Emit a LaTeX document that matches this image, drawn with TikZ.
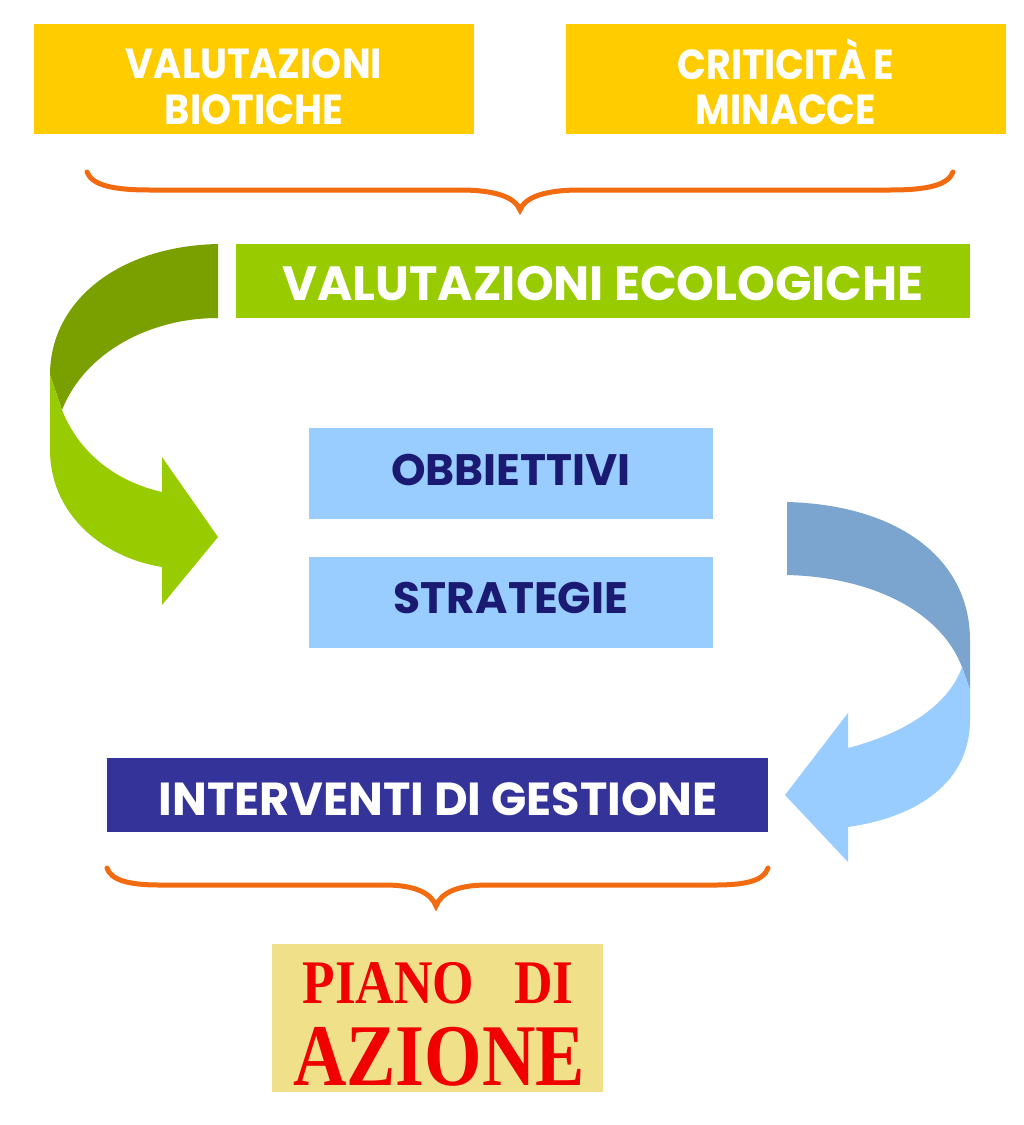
\documentclass[tikz,border=0pt]{standalone}
\usepackage{fontspec}
\setmainfont{Liberation Serif}
\newfontfamily\gothic{Poppins}
\definecolor{ybox}{HTML}{FFCC00}
\definecolor{gbox}{HTML}{99CC00}
\definecolor{gdark}{HTML}{7AA000}
\definecolor{bbox}{HTML}{99CCFF}
\definecolor{bdark}{HTML}{7BA5CF}
\definecolor{navy}{HTML}{1A1A72}
\definecolor{ibox}{HTML}{333399}
\definecolor{brace}{HTML}{F26B10}
\definecolor{pbox}{HTML}{F0E08A}
\definecolor{ptext}{HTML}{F00000}
\newcommand{\hs}[2]{\scalebox{#1}[1]{#2}}
\begin{document}
\begin{tikzpicture}[x=1pt,y=-1pt,
  box/.style={rectangle,inner sep=0pt,outer sep=0pt,anchor=north west},
  lbl/.style={anchor=base,inner sep=0pt},
  wtxt/.style={lbl,text=white,font=\gothic\bfseries\fontsize{42}{47}\selectfont},
  btxt/.style={lbl,text=navy,font=\gothic\bfseries\fontsize{44}{50}\selectfont},
  bigw/.style={lbl,text=white,font=\gothic\bfseries\fontsize{48}{50}\selectfont},
  bracestyle/.style={draw=brace,line width=5pt,line cap=round}]
\useasboundingbox (0,0) rectangle (1024,1125);
\fill[white] (0,0) rectangle (1024,1125);

% top boxes
\node[box,fill=ybox,minimum width=440pt,minimum height=110pt] (bio) at (34,24) {};
\node[wtxt] (bio1) at (254,78) {\hs{0.91}{VALUTAZIONI}};
\node[wtxt] (bio2) at (254,124) {\hs{0.91}{BIOTICHE}};
\node[box,fill=ybox,minimum width=440pt,minimum height=110pt] (crit) at (566,24) {};
\node[wtxt] (crit1) at (786,79) {\hs{0.9}{CRITICIT\`A E}};
\node[wtxt] (crit2) at (786,124) {\hs{0.9}{MINACCE}};

% brace 1
\draw[bracestyle] (87,172) .. controls (92,185) and (112,190) .. (150,190) -- (460,190)
  .. controls (495,190) and (515,197) .. (520,210)
  .. controls (525,197) and (545,190) .. (580,190) -- (890,190)
  .. controls (928,190) and (948,185) .. (953,172);

% ecological
\node[box,fill=gbox,minimum width=734pt,minimum height=74pt] (eco) at (236,244) {};
\node[bigw] (ecot) at (603,300) {VALUTAZIONI ECOLOGICHE};

% green arrow
\fill[gdark] (218,244) .. controls (120,246) and (50,300) .. (50,375) -- (62,410)
  .. controls (85,352) and (150,318) .. (218,318) -- cycle;
\fill[gbox] (50,375) -- (50,450) .. controls (50,512) and (100,557) .. (162,567)
  -- (162,605) -- (218,537) -- (162,457) -- (162,492)
  .. controls (118,482) and (80,455) .. (62,410) -- cycle;

% middle boxes
\node[box,fill=bbox,minimum width=404pt,minimum height=91pt] (obj) at (309,428) {};
\node[btxt] (objt) at (511,485) {OBBIETTIVI};
\node[box,fill=bbox,minimum width=404pt,minimum height=91pt] (str) at (309,557) {};
\node[btxt] (strt) at (511,613) {STRATEGIE};

% blue arrow
\fill[bdark] (787,502) .. controls (900,505) and (970,560) .. (970,640) -- (970,690) -- (962,667)
  .. controls (940,610) and (870,577) .. (787,575) -- cycle;
\fill[bbox] (962,667) -- (970,690) -- (970,720) .. controls (970,782) and (918,817) .. (848,827)
  -- (848,862) -- (785,795) -- (848,713) -- (848,748)
  .. controls (910,732) and (950,702) .. (962,667) -- cycle;

% interventi
\node[box,fill=ibox,minimum width=661pt,minimum height=74pt] (int) at (107,758) {};
\node[lbl,text=white,font=\gothic\bfseries\fontsize{46.3}{50}\selectfont] (intt) at (438,815) {INTERVENTI DI GESTIONE};

% brace 2
\draw[bracestyle] (107,868) .. controls (111,880) and (128,885) .. (160,885) -- (385,885)
  .. controls (415,885) and (431,893) .. (436,906)
  .. controls (441,893) and (457,885) .. (487,885) -- (715,885)
  .. controls (748,885) and (764,880) .. (768,868);

% piano di azione
\node[box,fill=pbox,minimum width=331pt,minimum height=148pt] (piano) at (272,944) {};
\node[lbl,text=ptext,font=\bfseries\fontsize{62}{62}\selectfont] (p1) at (438,1003) {\hs{0.86}{PIANO\hspace{0.75em}DI}};
\node[lbl,text=ptext,font=\bfseries\fontsize{88}{88}\selectfont] (p2) at (439,1085) {\hs{0.84}{AZIONE}};
\end{tikzpicture}
\end{document}
